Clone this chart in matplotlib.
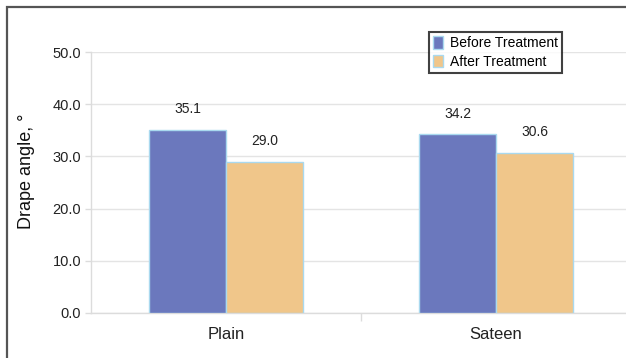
import numpy as np
import matplotlib
matplotlib.use("Agg")
import matplotlib.pyplot as plt
from matplotlib.patches import Rectangle, Patch

plt.rcParams['font.family'] = ['Liberation Sans', 'DejaVu Sans']

# data
fabrics = ['Plain', 'Sateen']
before = [35.1, 34.2]
after = [29.0, 30.6]
series_names = ['Before Treatment', 'After Treatment']
yticks = [0, 10, 20, 30, 40, 50]

blue = '#6b78bd'
orange = '#f0c68a'
edge = '#a9d9ef'
text_col = '#222222'

W, H = 626, 358
fig = plt.figure(figsize=(W / 100, H / 100), dpi=100)
fig.patch.set_facecolor('white')

# axes box in pixels: left 91, right ~631 (cut off), y0 at 313, y50 at 52
left, right, bottom, top = 91, 631, 313, 52
ax = fig.add_axes([left / W, 1 - bottom / H, (right - left) / W, (bottom - top) / H])

x = np.arange(len(fabrics))
w = 0.285
b1 = ax.bar(x - w / 2, before, w, color=blue, edgecolor=edge, linewidth=1.0, zorder=3,
            label=series_names[0])
b2 = ax.bar(x + w / 2, after, w, color=orange, edgecolor=edge, linewidth=1.0, zorder=3,
            label=series_names[1])

for bars, vals in ((b1, before), (b2, after)):
    for r, v in zip(bars, vals):
        ax.annotate('%.1f' % v, (r.get_x() + r.get_width() / 2, v),
                    xytext=(0, 10), textcoords='offset points', ha='center', va='bottom',
                    fontsize=10, color=text_col)

ax.set_xlim(-0.5, 1.5)
ax.set_ylim(0, 50)
ax.set_yticks(yticks)
ax.set_yticklabels(['%.1f' % t for t in yticks])
ax.set_xticks(x)
ax.set_xticklabels(fabrics)
ax.set_xticks([0.5], minor=True)

ax.yaxis.grid(True, color='#e4e4e4', linewidth=1.0, zorder=0)
ax.set_axisbelow(True)
for s in ('top', 'right'):
    ax.spines[s].set_visible(False)
for s in ('left', 'bottom'):
    ax.spines[s].set_color('#dcdcdc')
    ax.spines[s].set_linewidth(1.0)

ax.tick_params(axis='y', length=4, width=1, color='#dcdcdc', pad=3, labelsize=10.5,
               labelcolor=text_col)
ax.tick_params(axis='x', which='major', length=0, pad=10, labelsize=12, labelcolor=text_col)
ax.tick_params(axis='x', which='minor', length=6, width=1, color='#dcdcdc')

ax.set_ylabel('Drape angle, °', fontsize=13, color='#111111')
# label sits a bit above the axes centre in the original
ax.yaxis.set_label_coords((35 - left) / (right - left), (bottom - 171) / (bottom - top))

handles = [Patch(facecolor=blue, edgecolor=edge), Patch(facecolor=orange, edgecolor=edge)]
leg = fig.legend(handles, series_names, loc='upper left',
                 bbox_to_anchor=(429 / W, 1 - 32 / H), fontsize=10,
                 frameon=True, fancybox=False, edgecolor='#111111',
                 handlelength=0.7, handleheight=1.0, handletextpad=0.5,
                 borderpad=0.3, labelspacing=0.35, borderaxespad=0)
leg.get_frame().set_linewidth(1.5)

# outer frame of the original figure, cut at right and bottom
fig.patches.append(Rectangle((7 / W, -0.5), 2.0, 1 - 7 / H + 0.5, transform=fig.transFigure,
                             fill=False, edgecolor='#555555', linewidth=1.6))

fig.savefig('out.png', dpi=100)
